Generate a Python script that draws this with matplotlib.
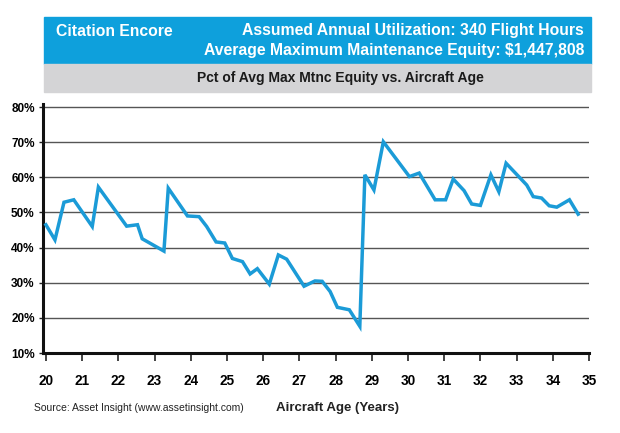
import matplotlib.pyplot as plt
from matplotlib.patches import Rectangle
from matplotlib.ticker import FixedLocator

# Pct of avg max maintenance equity vs aircraft age
age = [20.0, 20.25, 20.5, 20.77, 21.28, 21.45, 22.23, 22.53, 22.66, 23.26,
       23.38, 23.91, 24.23, 24.44, 24.70, 24.94, 25.15, 25.43, 25.64, 25.84,
       26.17, 26.42, 26.65, 27.13, 27.43, 27.63, 27.85, 28.05, 28.38, 28.67,
       28.81, 29.06, 29.32, 30.04, 30.31, 30.75, 31.04, 31.25, 31.55, 31.76,
       32.0, 32.29, 32.51, 32.71, 33.28, 33.46, 33.69, 33.90, 34.11, 34.46,
       34.70]
pct = [46.5, 42.2, 52.9, 53.6, 46.0, 57.2, 46.1, 46.5, 42.5, 39.0,
       56.9, 49.0, 48.8, 46.0, 41.6, 41.3, 36.9, 36.0, 32.5, 34.0,
       29.6, 37.9, 36.7, 29.0, 30.5, 30.4, 27.5, 23.0, 22.3, 17.6,
       60.7, 56.4, 70.1, 60.2, 61.2, 53.6, 53.6, 59.5, 56.2, 52.4,
       52.0, 60.7, 55.9, 64.0, 57.8, 54.5, 54.1, 51.9, 51.5, 53.6,
       49.5]

x_ticks = list(range(20, 36))
y_ticks = [10, 20, 30, 40, 50, 60, 70, 80]
y_labels = ['%d%%' % v for v in y_ticks]

plt.rcParams['font.family'] = ['Liberation Sans', 'DejaVu Sans']

W, H = 620, 433
fig = plt.figure(figsize=(6.2, 4.33), dpi=100)

# header boxes
blue = '#0ea0dc'
gray = '#d4d4d6'
fig.patches.append(Rectangle((44 / W, 1 - 64 / H), 547 / W, 47 / H,
                             transform=fig.transFigure, color=blue, zorder=0))
fig.patches.append(Rectangle((44 / W, 1 - 92 / H), 547 / W, 28 / H,
                             transform=fig.transFigure, color=gray, zorder=0))
fig.text(56 / W, 1 - 31 / H, 'Citation Encore', color='white', fontsize=11.35,
         fontweight='bold', va='center', ha='left')
fig.text(584 / W, 1 - 31 / H, 'Assumed Annual Utilization: 340 Flight Hours',
         color='white', fontsize=11.35, fontweight='bold', va='center', ha='right')
fig.text(584 / W, 1 - 50 / H, 'Average Maximum Maintenance Equity: $1,447,808',
         color='white', fontsize=11.35, fontweight='bold', va='center', ha='right')
fig.text(340 / W, 1 - 78 / H, 'Pct of Avg Max Mtnc Equity vs. Aircraft Age',
         color='#1a1a1a', fontsize=10, fontweight='bold', va='center', ha='center')

ax = fig.add_axes([43 / W, 1 - 353 / H, 546 / W, 249.5 / H])
ax.plot(age, pct, color='#1b9bd7', lw=2.5, solid_joinstyle='miter', zorder=3)

ax.set_xlim(19.92, 35.0)
ax.set_ylim(10, 81)
ax.xaxis.set_major_locator(FixedLocator(x_ticks))
ax.set_xticklabels([str(v) for v in x_ticks], fontsize=9.8, fontweight='bold')
ax.set_yticks(y_ticks)
ax.set_yticklabels(y_labels, fontsize=8.5, fontweight='bold')
ax.tick_params(axis='x', direction='out', length=6, width=1.2, pad=9, color='#222222')
ax.tick_params(axis='y', direction='out', length=3, width=1, pad=3, color='#222222')

for v in y_ticks[1:]:
    ax.axhline(v, color='#555555', lw=1.0, zorder=1)

for s in ['top', 'right']:
    ax.spines[s].set_visible(False)
ax.spines['left'].set_linewidth(2.2)
ax.spines['bottom'].set_linewidth(2.2)
ax.spines['left'].set_color('#111111')
ax.spines['bottom'].set_color('#111111')

fig.text(34 / W, 1 - 408 / H, 'Source: Asset Insight (www.assetinsight.com)',
         fontsize=7.5, va='center', ha='left', color='#222222')
fig.text(337 / W, 1 - 408 / H, 'Aircraft Age (Years)', fontsize=9.5,
         fontweight='bold', va='center', ha='center', color='#222222')

fig.savefig('out.png', dpi=100)
